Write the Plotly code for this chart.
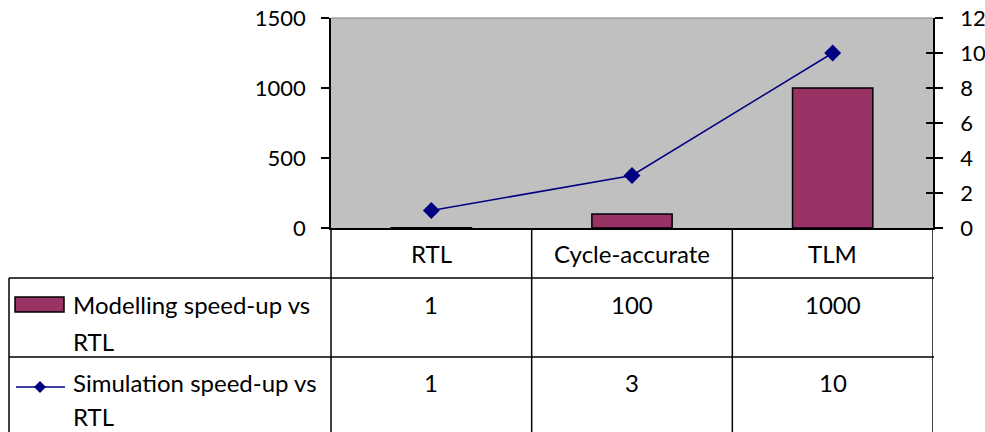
import plotly.graph_objects as go

# Speed-up of each abstraction level relative to RTL
categories = ["RTL", "Cycle-accurate", "TLM"]
modelling_speedup = [1, 100, 1000]
simulation_speedup = [1, 3, 10]
series_names = [["Modelling speed-up vs", "RTL"], ["Simulation speed-up vs", "RTL"]]

W, H = 985, 432
PL, PR, PT, PB = 331, 933, 18, 228  # plot area in pixels
FAMILY = "Lato, 'Open Sans', sans-serif"
TABLE_FONT = dict(family=FAMILY, size=24, color="black")
TICK_FONT = dict(family=FAMILY, size=22, color="black")
BAR_COLOR = "#993366"
LINE_COLOR = "#000080"


def fx(x):
    return (x - PL) / (PR - PL)


def fy(y):
    return (PB - y) / (PB - PT)


fig = go.Figure()
fig.add_trace(go.Bar(
    x=categories, y=modelling_speedup, name=" ".join(series_names[0]),
    marker=dict(color=BAR_COLOR, line=dict(color="black", width=1.5)),
    yaxis="y",
))
fig.add_trace(go.Scatter(
    x=categories, y=simulation_speedup, name=" ".join(series_names[1]),
    mode="lines+markers", line=dict(color=LINE_COLOR, width=1.5),
    marker=dict(symbol="diamond", size=13, color=LINE_COLOR),
    yaxis="y2",
))
# transparent copy carrying the inner half of the right-hand ticks
fig.add_trace(go.Scatter(
    x=categories, y=simulation_speedup, mode="lines", opacity=0,
    hoverinfo="skip", showlegend=False, yaxis="y3",
))

shapes = []


def seg(x0, y0, x1, y1, xref="paper", width=1.5, color="black"):
    shapes.append(dict(type="line", xref=xref, yref="paper",
                       x0=x0, y0=fy(y0), x1=x1, y1=fy(y1),
                       line=dict(color=color, width=width), layer="above"))


# plot-area top border
seg(0, PT, 1, PT, width=1.2, color="#808080")
# data table grid
seg(0, PB, 0, H + 5)
for b in [0.5, 1.5, 2.5]:
    seg(b, PB, b, H + 5, xref="x")
seg(fx(9), 278, fx(934), 278)
seg(fx(9), 357, fx(934), 357)
seg(fx(9), 278, fx(9), H + 5)

# legend keys inside the table
shapes.append(dict(type="rect", xref="paper", yref="paper",
                   x0=fx(15), x1=fx(64), y0=fy(312), y1=fy(297),
                   fillcolor=BAR_COLOR, line=dict(color="black", width=1.5)))
seg(fx(16), 387, fx(65), 387, width=1.5, color=LINE_COLOR)
cx, cy, r = 40, 387, 6
shapes.append(dict(type="path", xref="paper", yref="paper",
                   path=f"M {fx(cx)} {fy(cy - r)} L {fx(cx + r)} {fy(cy)} "
                        f"L {fx(cx)} {fy(cy + r)} L {fx(cx - r)} {fy(cy)} Z",
                   fillcolor=LINE_COLOR, line=dict(color=LINE_COLOR, width=0)))

annotations = []


def text(x, y, s, xref="paper", xanchor="center"):
    annotations.append(dict(x=x, y=fy(y), xref=xref, yref="paper", text=s,
                            showarrow=False, xanchor=xanchor, yanchor="middle",
                            font=TABLE_FONT))


for i, c in enumerate(categories):
    text(i, 253, c, xref="x")
    text(i, 304, str(modelling_speedup[i]), xref="x")
    text(i, 382, str(simulation_speedup[i]), xref="x")
text(fx(71), 304, series_names[0][0], xanchor="left")
text(fx(71), 341, series_names[0][1], xanchor="left")
text(fx(71), 382, series_names[1][0], xanchor="left")
text(fx(71), 416, series_names[1][1], xanchor="left")

axis_common = dict(showgrid=False, zeroline=False, tickfont=TICK_FONT,
                   tickcolor="black", tickwidth=1.5, automargin=False)
fig.update_layout(
    width=W, height=H, autosize=False,
    margin=dict(l=PL, r=W - PR, t=PT, b=H - PB, pad=0, autoexpand=False),
    paper_bgcolor="white", plot_bgcolor="#C0C0C0",
    showlegend=False, bargap=0.6,
    xaxis=dict(range=[-0.5, 2.5], showticklabels=False, ticks="",
               showline=True, linecolor="black", linewidth=2,
               showgrid=False, zeroline=False, automargin=False),
    yaxis=dict(range=[0, 1500], dtick=500, ticks="outside", ticklen=8,
               ticklabelstandoff=11,
               showline=True, linecolor="black", linewidth=1.5, **axis_common),
    yaxis2=dict(range=[0, 12], dtick=2, ticks="outside", ticklen=8,
                ticklabelstandoff=13, overlaying="y", side="right",
                showline=True, linecolor="black", linewidth=1.5, **axis_common),
    yaxis3=dict(range=[0, 12], dtick=2, ticks="inside", ticklen=7,
                overlaying="y", side="right", showticklabels=False,
                showline=False, showgrid=False, zeroline=False,
                tickcolor="black", tickwidth=1.5, automargin=False),
    shapes=shapes, annotations=annotations,
)

fig.write_html("out.html")
